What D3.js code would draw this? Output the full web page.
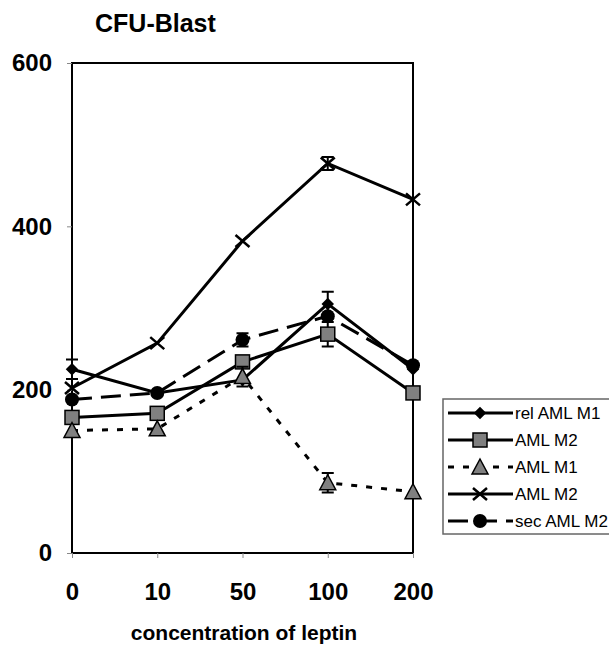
<!DOCTYPE html>
<html>
<head>
<meta charset="utf-8">
<script src="https://cdn.jsdelivr.net/npm/d3@7"></script>
<style>
  body { margin: 0; background: #fff; }
  text { font-family: Arial, "Liberation Sans", sans-serif; }
</style>
</head>
<body>
<svg width="609" height="646"></svg>
<script>
// leptin concentrations on the x axis
const doses = ["0", "10", "50", "100", "200"];
const yTicks = [0, 200, 400, 600];

// series values
const relM1 = [225, 196, 212, 305, 225];
const relM1Err = [12, 0, 0, 15, 0];
const m2Sq = [166, 171, 234, 268, 196];
const m2SqErr = [0, 0, 0, 15, 0];
const m1Tri = [150, 152, 216, 86, 75];
const m1TriErr = [0, 0, 12, 12, 0];
const m2X = [202, 257, 382, 477, 433];
const m2XErr = [0, 0, 0, 8, 0];
const secM2 = [188, 196, 261, 290, 230];
const secM2Err = [0, 0, 8, 0, 0];

const series = [
  {name: "rel AML M1", values: relM1, err: relM1Err, shape: "diamond", dash: null},
  {name: "AML M2", values: m2Sq, err: m2SqErr, shape: "square", dash: null},
  {name: "AML M1", values: m1Tri, err: m1TriErr, shape: "triangle", dash: "6,9"},
  {name: "AML M2", values: m2X, err: m2XErr, shape: "cross", dash: null},
  {name: "sec AML M2", values: secM2, err: secM2Err, shape: "circle", dash: "20,9"}
];

const svg = d3.select("svg");
const plotL = 72, plotR = 413, plotT = 63, plotB = 553;
const font = "Arial, 'Liberation Sans', sans-serif";

// categorical x, points sit on the frame edges
const x = d3.scalePoint().domain(doses).range([plotL, plotR]).padding(0);
const y = d3.scaleLinear().domain([0, 600]).range([plotB, plotT]);

// title
svg.append("text").attr("x", 95).attr("y", 32)
  .attr("font-size", 25).attr("font-weight", "bold").text("CFU-Blast");

// frame
svg.append("rect").attr("x", plotL).attr("y", plotT)
  .attr("width", plotR - plotL).attr("height", plotB - plotT)
  .attr("fill", "none").attr("stroke", "#000").attr("stroke-width", 2);

// y axis
const yAxis = svg.append("g").attr("transform", `translate(${plotL},0)`)
  .call(d3.axisLeft(y).tickValues(yTicks).tickSize(5).tickPadding(15));
yAxis.select(".domain").remove();
yAxis.selectAll("line").attr("stroke", "#888");
yAxis.selectAll("text").attr("font-size", 24).attr("font-weight", "bold")
  .attr("font-family", font).attr("fill", "#000");

// x axis
const xAxis = svg.append("g").attr("transform", `translate(0,${plotB})`)
  .call(d3.axisBottom(x).tickSize(5).tickPadding(25));
xAxis.select(".domain").remove();
xAxis.selectAll("line").attr("stroke", "#888");
xAxis.selectAll("text").attr("font-size", 24).attr("font-weight", "bold")
  .attr("font-family", font).attr("fill", "#000");

svg.append("text").attr("x", 244).attr("y", 640).attr("text-anchor", "middle")
  .attr("font-size", 21).attr("font-weight", "bold").text("concentration of leptin");

function marker(g, shape, cx, cy) {
  if (shape === "diamond") {
    g.append("path").attr("d", d3.symbol(d3.symbolDiamond2, 100)())
      .attr("transform", `translate(${cx},${cy})`).attr("fill", "#000");
  } else if (shape === "square") {
    g.append("rect").attr("x", cx - 7).attr("y", cy - 7).attr("width", 14).attr("height", 14)
      .attr("fill", "#808080").attr("stroke", "#000").attr("stroke-width", 1.5);
  } else if (shape === "triangle") {
    g.append("path").attr("d", `M${cx},${cy - 8}L${cx + 8},${cy + 7}L${cx - 8},${cy + 7}Z`)
      .attr("fill", "#808080").attr("stroke", "#000").attr("stroke-width", 1.5);
  } else if (shape === "cross") {
    g.append("path").attr("d", `M${cx - 7},${cy - 6}L${cx + 7},${cy + 6}M${cx + 7},${cy - 6}L${cx - 7},${cy + 6}`)
      .attr("stroke", "#000").attr("stroke-width", 2.5).attr("fill", "none");
  } else if (shape === "circle") {
    g.append("circle").attr("cx", cx).attr("cy", cy).attr("r", 7).attr("fill", "#000");
  }
}

const line = d3.line().x((d, i) => x(doses[i])).y(d => y(d));
const plot = svg.append("g");

series.forEach(s => {
  const g = plot.append("g");
  g.append("path").attr("d", line(s.values)).attr("fill", "none")
    .attr("stroke", "#000").attr("stroke-width", 3)
    .attr("stroke-dasharray", s.dash);
  s.values.forEach((v, i) => {
    const e = s.err[i];
    if (e > 0) {
      const cx = x(doses[i]);
      g.append("path")
        .attr("d", `M${cx},${y(v + e)}L${cx},${y(v - e)}M${cx - 6},${y(v + e)}L${cx + 6},${y(v + e)}M${cx - 6},${y(v - e)}L${cx + 6},${y(v - e)}`)
        .attr("stroke", "#000").attr("stroke-width", 2).attr("fill", "none");
    }
  });
  s.values.forEach((v, i) => marker(g, s.shape, x(doses[i]), y(v)));
});

// legend
const lg = svg.append("g");
lg.append("rect").attr("x", 443).attr("y", 399).attr("width", 175).attr("height", 135)
  .attr("fill", "#fff").attr("stroke", "#666").attr("stroke-width", 1.5);
series.forEach((s, i) => {
  const ly = 413 + i * 27;
  lg.append("path").attr("d", `M448,${ly}L513,${ly}`).attr("stroke", "#000")
    .attr("stroke-width", 3).attr("stroke-dasharray", s.dash);
  marker(lg, s.shape, 480, ly);
  lg.append("text").attr("x", 515).attr("y", ly + 6).attr("font-size", 17).text(s.name);
});
</script>
</body>
</html>
